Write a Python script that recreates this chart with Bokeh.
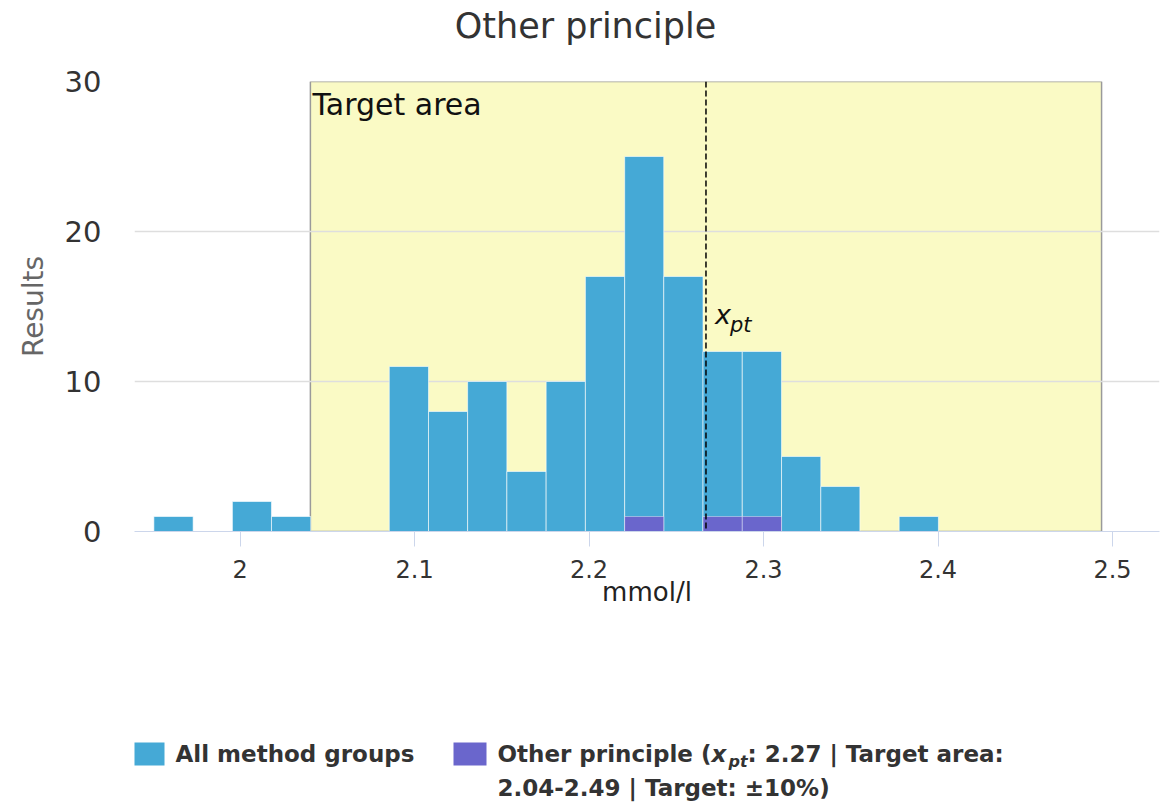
from bokeh.plotting import figure
from bokeh.layouts import column
from bokeh.models import Range1d, FixedTicker, Label, Span
from bokeh.core.properties import value
from bokeh.embed import file_html
from bokeh.resources import INLINE

# ---------------- data ----------------
title = "Other principle"
x_title = "mmol/l"
y_title = "Results"
bin_edges = [1.9506, 1.9731, 1.9956, 2.0180, 2.0405, 2.0630, 2.0855, 2.1080,
             2.1304, 2.1529, 2.1754, 2.1979, 2.2204, 2.2428, 2.2653, 2.2878,
             2.3103, 2.3328, 2.3552, 2.3777, 2.4002]
all_counts = [1, 0, 2, 1, 0, 0, 11, 8, 10, 4, 10, 17, 25, 17, 12, 12, 5, 3, 0, 1]
group_counts = [0, 0, 0, 0, 0, 0, 0, 0, 0, 0, 0, 0, 1, 0, 1, 1, 0, 0, 0, 0]
xpt = 2.267
target_pct = 0.10
x_ticks = [2, 2.1, 2.2, 2.3, 2.4, 2.5]
x_tick_labels = ["2", "2.1", "2.2", "2.3", "2.4", "2.5"]
y_ticks = [0, 10, 20, 30]
x_min, x_max = 1.9395, 2.5269
y_min, y_max = 0, 30
legend_all = "All method groups"
legend_grp_a = "Other principle ("
legend_grp_b = ": 2.27 | Target area:"
legend_grp_c = "2.04-2.49 | Target: \u00b110%)"

BLUE = "#45a9d6"
PURPLE = "#6a66cc"
BAND = "#fafac5"
FONT_NAME = "DejaVu Sans"
FONT = value(FONT_NAME)
W = 1172
BL, BR = 134, 13          # left / right borders shared by all three figures
FL, FR = BL, W - BR       # frame pixel span

t_lo = xpt * (1 - target_pct)
t_hi = xpt * (1 + target_pct)


def blank(height, top):
    f = figure(width=W, height=height, x_range=Range1d(FL, FR),
               y_range=Range1d(top + height, top),
               x_axis_location=None, y_axis_location=None,
               min_border_left=BL, min_border_right=BR, min_border_top=0, min_border_bottom=0,
               output_backend="svg", toolbar_location=None)
    f.grid.visible = False
    f.outline_line_color = None
    return f


# ---------------- title figure ----------------
TH = 64
tf = blank(TH, 0)
tf.text(x=[585], y=[25], text=[title], text_align="center", text_baseline="middle",
        text_font=FONT, text_font_size="35px", text_color="#333333")

# ---------------- main figure ----------------
MH = 559
p = figure(width=W, height=MH, x_range=Range1d(x_min, x_max), y_range=Range1d(y_min, y_max),
           min_border_left=BL, min_border_right=BR, min_border_top=17, min_border_bottom=92,
           output_backend="svg", toolbar_location=None)
p.outline_line_color = None
p.xgrid.grid_line_color = None
p.ygrid.grid_line_color = "#dedede"
p.ygrid.grid_line_width = 1.5

# target band
p.quad(left=[t_lo], right=[t_hi], bottom=[y_min], top=[y_max], fill_color=BAND,
       line_color="#9a9a9a", line_width=1.5, level="image")

# all bars
lefts = [bin_edges[i] for i in range(len(all_counts)) if all_counts[i] > 0]
rights = [bin_edges[i + 1] for i in range(len(all_counts)) if all_counts[i] > 0]
tops = [c for c in all_counts if c > 0]
p.quad(left=lefts, right=rights, bottom=0, top=tops, fill_color=BLUE,
       line_color="white", line_alpha=0.6, line_width=1)

gl = [bin_edges[i] for i in range(len(group_counts)) if group_counts[i] > 0]
gr = [bin_edges[i + 1] for i in range(len(group_counts)) if group_counts[i] > 0]
gt = [c for c in group_counts if c > 0]
p.quad(left=gl, right=gr, bottom=0, top=gt, fill_color=PURPLE,
       line_color="white", line_alpha=0.4, line_width=1)

# xpt line
p.add_layout(Span(location=xpt, dimension="height", line_color="black",
                  line_dash="6 3", line_width=1.5))

p.add_layout(Label(x=t_lo, y=y_max, x_offset=2, y_offset=-5, text="Target area",
                   text_baseline="top", text_font=FONT_NAME, text_font_size="30px",
                   text_color="#111111"))
p.add_layout(Label(x=xpt, y=y_max, x_offset=9, y_offset=-233, text="x",
                   text_baseline="middle", text_font=FONT_NAME, text_font_size="27px",
                   text_font_style="italic", text_color="#111111"))
p.add_layout(Label(x=xpt, y=y_max, x_offset=24, y_offset=-243, text="pt",
                   text_baseline="middle", text_font=FONT_NAME, text_font_size="21px",
                   text_font_style="italic", text_color="#111111"))

# axes
xa = p.xaxis[0]
xa.ticker = FixedTicker(ticks=x_ticks)
xa.major_label_overrides = dict(zip(x_ticks, x_tick_labels))
xa.axis_line_color = "#ccd6eb"
xa.major_tick_line_color = "#ccd6eb"
xa.major_tick_out = 15
xa.major_tick_in = 0
xa.minor_tick_line_color = None
xa.major_label_standoff = 13
xa.major_label_text_font = FONT_NAME
xa.major_label_text_font_size = "24px"
xa.major_label_text_color = "#333333"
xa.axis_label = x_title
xa.axis_label_text_font = FONT_NAME
xa.axis_label_text_font_size = "26px"
xa.axis_label_text_font_style = "normal"
xa.axis_label_text_color = "#222222"
xa.axis_label_standoff = -4

ya = p.yaxis[0]
ya.ticker = FixedTicker(ticks=y_ticks)
ya.axis_line_color = None
ya.major_tick_line_color = None
ya.minor_tick_line_color = None
ya.major_label_standoff = 27
ya.major_label_text_font = FONT_NAME
ya.major_label_text_font_size = "29px"
ya.major_label_text_color = "#333333"
ya.axis_label = y_title
ya.axis_label_text_font = FONT_NAME
ya.axis_label_text_font_size = "28px"
ya.axis_label_text_font_style = "normal"
ya.axis_label_text_color = "#666666"
ya.axis_label_standoff = 12

# ---------------- legend figure ----------------
LT = TH + MH
LH = 806 - LT
lf = blank(LH, LT)
lf.quad(left=[132], right=[164], top=[742], bottom=[765], fill_color=BLUE, line_color=None)
lf.quad(left=[453], right=[486], top=[742], bottom=[765], fill_color=PURPLE, line_color=None)
common = dict(text_baseline="middle", text_font=FONT, text_color="#333333",
              text_font_style="bold", text_font_size="23px")
lf.text(x=[175], y=[753], text=[legend_all], **common)
lf.text(x=[497], y=[753], text=[legend_grp_a], **common)
lf.text(x=[711], y=[753], text=["x"], text_font_size="23px", text_baseline="middle",
        text_font=FONT, text_color="#333333", text_font_style="bold italic")
lf.text(x=[728], y=[761], text=["pt"], text_font_size="16px", text_baseline="middle",
        text_font=FONT, text_color="#333333", text_font_style="bold italic")
lf.text(x=[747], y=[753], text=[legend_grp_b], **common)
lf.text(x=[497], y=[787], text=[legend_grp_c], **common)

layout = column(tf, p, lf, spacing=0)
open("out.html", "w").write(file_html(layout, INLINE))
